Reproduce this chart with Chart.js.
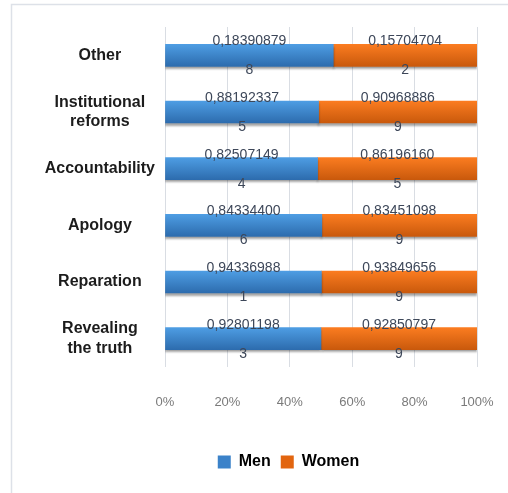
<!DOCTYPE html>
<html>
<head>
<meta charset="utf-8">
<script src="https://cdn.jsdelivr.net/npm/chart.js@4"></script>
<style>
  html, body { margin: 0; padding: 0; background: #ffffff; }
  #wrap { position: relative; width: 508px; height: 493px; }
</style>
</head>
<body>
<div id="wrap"><canvas id="chart"></canvas></div>
<script>
// Dados do gráfico
const categories = ['Other', ['Institutional', 'reforms'], 'Accountability', 'Apology', 'Reparation', ['Revealing', 'the truth']];
const menValues = [0.183908798, 0.881923375, 0.825071494, 0.843344006, 0.943369881, 0.928011983];
const womenValues = [0.157047042, 0.909688869, 0.861961605, 0.834510989, 0.938496569, 0.928507979];
const seriesNames = ['Men', 'Women'];
const percentTicks = [0, 20, 40, 60, 80, 100];

// Barras 100% empilhadas: parte de cada série no total da categoria
const menShare = menValues.map((v, i) => v / (v + womenValues[i]) * 100);
const womenShare = womenValues.map((v, i) => v / (menValues[i] + v) * 100);

const BAR_H = 22;

// Gradiente vertical por barra (claro em cima, escuro em baixo)
function barGradient(top, bottom) {
    return function (context) {
        const chart = context.chart;
        const yScale = chart.scales.y;
        if (!chart.chartArea || !yScale || context.dataIndex === undefined) return bottom;
        const yc = yScale.getPixelForValue(context.dataIndex);
        if (!isFinite(yc)) return bottom;
        const g = chart.ctx.createLinearGradient(0, yc - BAR_H / 2, 0, yc + BAR_H / 2);
        g.addColorStop(0, top);
        g.addColorStop(1, bottom);
        return g;
    };
}

// Moldura cinza clara (cortada à direita e em baixo)
const framePlugin = {
    id: 'frame',
    beforeDraw(chart) {
        const ctx = chart.ctx;
        ctx.save();
        ctx.strokeStyle = '#dde1e8';
        ctx.lineWidth = 1.5;
        ctx.beginPath();
        ctx.moveTo(11.5, 493);
        ctx.lineTo(11.5, 4.5);
        ctx.lineTo(508, 4.5);
        ctx.stroke();
        ctx.restore();
    }
};

// Legenda deslocada para a direita (centrada como no Excel)
const legendShift = {
    id: 'legendShift',
    afterLayout(chart) {
        if (chart.legend) chart.legend.left += 100;
    }
};

// Sombra por baixo das barras
const shadowPlugin = {
    id: 'barShadow',
    beforeDatasetsDraw(chart) {
        const ctx = chart.ctx;
        ctx.save();
        ctx.shadowColor = 'rgba(0, 0, 0, 0.35)';
        ctx.shadowOffsetY = 2.5;
        ctx.shadowBlur = 2;
    },
    afterDatasetsDraw(chart) {
        chart.ctx.restore();
    }
};

// Rótulos de valores: número quebrado em duas linhas (último dígito por baixo)
const valueLabels = {
    id: 'valueLabels',
    afterDraw(chart) {
        const ctx = chart.ctx;
        const raw = [menValues, womenValues];
        ctx.save();
        ctx.font = '14px "Liberation Sans", Arial, sans-serif';
        ctx.fillStyle = '#3d4759';
        ctx.textAlign = 'center';
        chart.data.datasets.forEach((ds, di) => {
            chart.getDatasetMeta(di).data.forEach((el, i) => {
                const txt = raw[di][i].toFixed(9).replace('.', ',');
                const cx = (el.x + el.base) / 2;
                ctx.textBaseline = 'alphabetic';
                ctx.fillText(txt.slice(0, -1), cx, el.y - 10);
                ctx.textBaseline = 'top';
                ctx.fillText(txt.slice(-1), cx, el.y + 8);
            });
        });
        ctx.restore();
    }
};

new Chart(document.getElementById('chart').getContext('2d'), {
    type: 'bar',
    data: {
        labels: categories,
        datasets: [
            {
                label: seriesNames[0],
                data: menShare,
                backgroundColor: barGradient('#4e9de3', '#2d6cae'),
                legendColor: '#3b82c9',
                barThickness: BAR_H
            },
            {
                label: seriesNames[1],
                data: womenShare,
                backgroundColor: barGradient('#fb7c20', '#c9590c'),
                legendColor: '#e2650f',
                barThickness: BAR_H
            }
        ]
    },
    options: {
        indexAxis: 'y',
        responsive: true,
        maintainAspectRatio: false,
        animation: false,
        layout: { padding: { top: 27, right: 31, left: 0, bottom: 13 } },
        scales: {
            x: {
                stacked: true,
                min: 0,
                max: 100,
                afterBuildTicks(scale) {
                    scale.ticks = percentTicks.map(v => ({ value: v }));
                },
                afterFit(scale) {
                    scale.height = 77;
                    scale.paddingRight = 0;
                },
                grid: { color: '#d9dde3', drawTicks: false },
                border: { display: false },
                ticks: {
                    padding: 28,
                    color: '#7a7a7a',
                    font: { size: 13, family: '"Liberation Sans", Arial, sans-serif' },
                    callback: v => v + '%'
                }
            },
            y: {
                stacked: true,
                afterFit(scale) { scale.width = 165; },
                grid: { display: false },
                border: { display: false },
                ticks: {
                    crossAlign: 'center',
                    padding: 2,
                    color: '#1c1c1c',
                    font: { size: 16, weight: 'bold', family: '"Liberation Sans", Arial, sans-serif' }
                }
            }
        },
        plugins: {
            legend: {
                position: 'bottom',
                labels: {
                    boxWidth: 13,
                    boxHeight: 13,
                    padding: 10,
                    color: '#1c1c1c',
                    font: { size: 16, weight: 'bold', family: '"Liberation Sans", Arial, sans-serif' },
                    generateLabels(chart) {
                        return chart.data.datasets.map((ds, i) => ({
                            text: ds.label,
                            fillStyle: ds.legendColor,
                            strokeStyle: ds.legendColor,
                            lineWidth: 0,
                            datasetIndex: i
                        }));
                    }
                }
            },
            tooltip: { enabled: false }
        }
    },
    plugins: [framePlugin, legendShift, shadowPlugin, valueLabels]
});
</script>
</body>
</html>
